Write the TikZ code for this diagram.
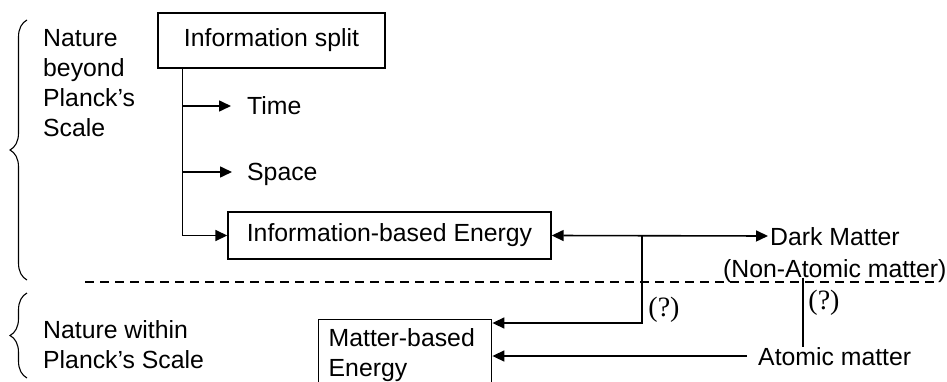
\documentclass[tikz,border=0pt]{standalone}
\usepackage{fontspec}
\setmainfont{Liberation Sans}
\newfontfamily\qfont{Liberation Serif}
\usetikzlibrary{arrows.meta,decorations.pathreplacing}
\begin{document}
\begin{tikzpicture}[x=1pt,y=-1pt,
  every node/.style={font=\fontsize{24.8}{30}\selectfont},
  box/.style={draw,line width=1.4pt,inner sep=0pt},
  lbl/.style={inner sep=0pt,text height=18pt,text depth=0pt,anchor=west},
  conn/.style={line width=1.6pt},
  arr/.style={conn,-{Triangle[length=12pt,width=11pt]}},
  darr/.style={conn,{Triangle[length=12pt,width=11pt]}-{Triangle[length=12pt,width=11pt]}},
  qlbl/.style={inner sep=0pt,font=\qfont\fontsize{28}{30}\selectfont},
  bracestyle/.style={decorate,decoration={brace,amplitude=17pt},line width=1.1pt},
  dashline/.style={conn,dash pattern=on 9pt off 6pt}]
\clip (0,0) rectangle (947,382);
% boxes
\node[box,minimum width=227pt,minimum height=55pt] (split) at (271.5,40.5) {Information split};
\node[box,minimum width=323pt,minimum height=47pt] (ibe) at (389.5,235.5) {Information-based Energy};
\node[box,anchor=north west,text width=153pt,align=left,inner xsep=10pt,inner ysep=9pt] (matter) at (318,319) {Matter-based\\Energy};
% side texts
\node[inner sep=0pt,anchor=north west,align=left] (beyond) at (43,29.5) {Nature\\beyond\\Planck’s\\Scale};
\node[inner sep=0pt,anchor=north west,align=left] (within) at (43,320) {Nature within\\Planck’s Scale};
% labels
\node[lbl] (time) at (247,106) {Time};
\node[lbl] (space) at (247,172) {Space};
\node[lbl] (dark) at (770,236) {Dark Matter};
\node[lbl] (nonatomic) at (723,268.5) {(Non-Atomic matter)};
\node[lbl] (atomic) at (758,356) {Atomic matter};
\node[qlbl] (q1) at (664,310) {(?)};
\node[qlbl] (q2) at (824,303) {(?)};
% connectors
\coordinate (trunk) at ([xshift=25pt]split.south west);
\draw[arr] (trunk) |- (ibe.west);
\draw[arr] (trunk |- time.west) -- ([xshift=-16pt]time.west);
\draw[arr] (trunk |- space.west) -- ([xshift=-15pt]space.west);
\draw[darr] (ibe.east) -- ([xshift=-2pt]dark.west);
\coordinate (j2) at (642,235.5);
\draw[arr] (j2) |- ([yshift=-4pt]matter.north east);
\coordinate (v2) at (803,0);
\draw[conn] (nonatomic.south -| v2) -- (atomic.north -| v2);
\draw[arr] ([xshift=-11pt]atomic.west) -- (matter.east |- atomic.west);
% dashed divider
\coordinate (dl) at (85,282);
\coordinate (dr) at (936,282);
\draw[dashline] (dl) -- (dr);
% braces
\coordinate (b1s) at (27,280);
\coordinate (b1e) at (27,20);
\draw[bracestyle] (b1s) -- (b1e);
\coordinate (b2s) at (27,378);
\coordinate (b2e) at (27,293);
\draw[bracestyle] (b2s) -- (b2e);
\end{tikzpicture}
\end{document}
